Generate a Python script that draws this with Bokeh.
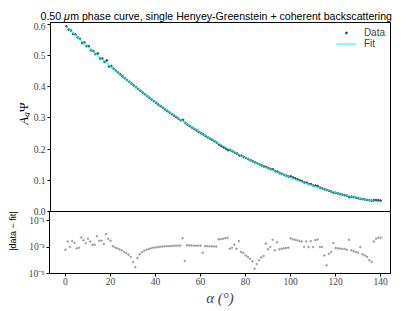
import math
from bokeh.plotting import figure
from bokeh.layouts import column, row
from bokeh.models import (Range1d, Legend, LegendItem, FixedTicker,
                          CustomJSTickFormatter, PrintfTickFormatter, ColumnDataSource)
from bokeh.core.properties import value
from bokeh.embed import file_html
from bokeh.resources import INLINE

# ---------------- data ----------------
alpha_deg = list(range(0, 141))

fit_values = [
    0.5930, 0.5861, 0.5792, 0.5724, 0.5657, 0.5589, 0.5522, 0.5456, 0.5390, 0.5324,
    0.5259, 0.5194, 0.5129, 0.5065, 0.5001, 0.4939, 0.4876, 0.4813, 0.4751, 0.4690,
    0.4629, 0.4568, 0.4508, 0.4448, 0.4388, 0.4329, 0.4271, 0.4213, 0.4155, 0.4097,
    0.4040, 0.3984, 0.3928, 0.3872, 0.3817, 0.3762, 0.3707, 0.3653, 0.3599, 0.3546,
    0.3493, 0.3441, 0.3389, 0.3337, 0.3286, 0.3235, 0.3185, 0.3135, 0.3085, 0.3036,
    0.2988, 0.2939, 0.2891, 0.2844, 0.2797, 0.2750, 0.2704, 0.2658, 0.2613, 0.2568,
    0.2523, 0.2479, 0.2435, 0.2392, 0.2349, 0.2307, 0.2265, 0.2223, 0.2182, 0.2141,
    0.2100, 0.2060, 0.2021, 0.1982, 0.1943, 0.1904, 0.1866, 0.1829, 0.1792, 0.1755,
    0.1719, 0.1683, 0.1647, 0.1612, 0.1578, 0.1544, 0.1510, 0.1476, 0.1443, 0.1411,
    0.1379, 0.1347, 0.1316, 0.1285, 0.1254, 0.1224, 0.1195, 0.1165, 0.1136, 0.1108,
    0.1080, 0.1052, 0.1025, 0.0998, 0.0972, 0.0946, 0.0921, 0.0896, 0.0871, 0.0847,
    0.0823, 0.0799, 0.0776, 0.0754, 0.0731, 0.0710, 0.0688, 0.0667, 0.0647, 0.0627,
    0.0607, 0.0587, 0.0569, 0.0550, 0.0532, 0.0514, 0.0497, 0.0480, 0.0464, 0.0448,
    0.0432, 0.0417, 0.0402, 0.0388, 0.0374, 0.0361, 0.0348, 0.0335, 0.0323, 0.0311,
    0.0299,
]

data_values = [
    0.5936, 0.5835, 0.5802, 0.5696, 0.5677, 0.5581, 0.5531, 0.5404, 0.5422, 0.5304,
    0.5301, 0.5168, 0.5144, 0.5050, 0.5067, 0.4909, 0.4906, 0.4796, 0.4844, 0.4648,
    0.4659, 0.4580, 0.4517, 0.4456, 0.4395, 0.4335, 0.4275, 0.4217, 0.4158, 0.4099,
    0.4041, 0.3984, 0.3926, 0.3869, 0.3813, 0.3757, 0.3701, 0.3646, 0.3591, 0.3537,
    0.3484, 0.3431, 0.3378, 0.3326, 0.3275, 0.3223, 0.3173, 0.3123, 0.3073, 0.3023,
    0.2975, 0.2926, 0.2936, 0.2843, 0.2784, 0.2737, 0.2691, 0.2645, 0.2600, 0.2555,
    0.2510, 0.2475, 0.2423, 0.2380, 0.2338, 0.2296, 0.2254, 0.2212, 0.2144, 0.2101,
    0.2058, 0.2015, 0.1971, 0.1975, 0.1934, 0.1889, 0.1859, 0.1801, 0.1788, 0.1751,
    0.1717, 0.1681, 0.1646, 0.1611, 0.1578, 0.1545, 0.1511, 0.1478, 0.1445, 0.1429,
    0.1386, 0.1357, 0.1351, 0.1291, 0.1277, 0.1231, 0.1202, 0.1173, 0.1144, 0.1117,
    0.1125, 0.1090, 0.1060, 0.1030, 0.1000, 0.0972, 0.0931, 0.0922, 0.0881, 0.0875,
    0.0833, 0.0832, 0.0813, 0.0764, 0.0741, 0.0712, 0.0688, 0.0664, 0.0643, 0.0607,
    0.0599, 0.0579, 0.0561, 0.0543, 0.0525, 0.0508, 0.0462, 0.0474, 0.0459, 0.0444,
    0.0428, 0.0407, 0.0399, 0.0386, 0.0372, 0.0360, 0.0347, 0.0361, 0.0365, 0.0361,
    0.0351,
]

residual_values = [
    6.3e-4, 2.6e-3, 1.0e-3, 2.8e-3, 2.0e-3, 7.9e-4, 8.9e-4, 5.2e-3, 3.2e-3, 2.0e-3,
    4.2e-3, 2.6e-3, 1.5e-3, 1.5e-3, 6.6e-3, 3.0e-3, 3.0e-3, 1.7e-3, 9.3e-3, 4.2e-3,
    3.0e-3, 1.17e-3, 9.3e-4, 7.9e-4, 6.6e-4, 5.6e-4, 4.2e-4, 3.5e-4, 2.6e-4, 1.8e-4,
    7.4e-5, 3.0e-5, 1.5e-4, 2.8e-4, 4.0e-4, 5.2e-4, 6.3e-4, 7.1e-4, 7.9e-4, 8.9e-4,
    9.3e-4, 1.0e-3, 1.05e-3, 1.07e-3, 1.12e-3, 1.15e-3, 1.17e-3, 1.2e-3, 1.23e-3, 1.26e-3,
    1.26e-3, 1.29e-3, 4.5e-3, 8.9e-5, 1.32e-3, 1.32e-3, 1.32e-3, 1.26e-3, 1.26e-3, 1.26e-3,
    1.26e-3, 3.7e-4, 1.17e-3, 1.17e-3, 1.12e-3, 1.12e-3, 1.1e-3, 1.07e-3, 3.8e-3, 4.0e-3,
    4.2e-3, 4.5e-3, 5.0e-3, 7.4e-4, 8.9e-4, 1.5e-3, 7.4e-4, 2.8e-3, 4.2e-4, 3.5e-4,
    2.3e-4, 1.8e-4, 1.3e-4, 8.3e-5, 2.3e-5, 5.2e-5, 1.0e-4, 1.6e-4, 2.1e-4, 1.8e-3,
    6.6e-4, 1.0e-3, 3.5e-3, 5.6e-4, 2.3e-3, 6.6e-4, 7.4e-4, 7.9e-4, 8.3e-4, 8.9e-4,
    4.5e-3, 3.8e-3, 3.5e-3, 3.2e-3, 2.8e-3, 2.6e-3, 1.0e-3, 2.6e-3, 1.0e-3, 2.8e-3,
    1.0e-3, 3.3e-3, 3.7e-3, 1.0e-3, 1.0e-3, 2.3e-4, 4.2e-5, 3.0e-4, 4.2e-4, 2.0e-3,
    8.3e-4, 7.9e-4, 7.6e-4, 7.2e-4, 7.1e-4, 6.3e-4, 3.5e-3, 5.6e-4, 4.7e-4, 4.2e-4,
    3.7e-4, 1.0e-3, 2.8e-4, 2.3e-4, 1.8e-4, 1.0e-4, 7.4e-5, 2.6e-3, 4.2e-3, 5.0e-3,
    5.2e-3,
]

main_y_ticks = [0.0, 0.1, 0.2, 0.3, 0.4, 0.5, 0.6]
resid_y_ticks = [1e-5, 1e-3, 1e-1]
x_ticks = [0, 20, 40, 60, 80, 100, 120, 140]

title_parts = ["0.50 ", "\u03bc",
               "m phase curve, single Henyey-Greenstein + coherent backscattering"]

# ---------------- styling / layout constants ----------------
SERIF = "Liberation Serif"
SANS = "Liberation Sans"
TICK_SIZE = "9.5px"
TITLE_SIZE = 10.6
X_LO, X_HI = -7.1, 144.4
Y_HI = 0.606
W = 400          # total width
TITLE_H = 22     # title strip height (frame top at page y = 22)
LAB_W = 30       # strip that holds the rotated main y label
TOP_H = 194      # upper panel: 189 px frame + 5 px bottom room
BOT_H = 98       # residual panel
BOT_LAB_W = 24   # strip that holds the rotated residual label
OVERLAP = 5


def strip(width, height):
    f = figure(width=width, height=height, x_range=Range1d(0, width),
               y_range=Range1d(0, height), x_axis_type=None, y_axis_type=None,
               output_backend="svg", toolbar_location=None, title=None,
               min_border=0, outline_line_color=None)
    f.xgrid.visible = False
    f.ygrid.visible = False
    f.border_fill_alpha = 0
    f.background_fill_alpha = 0
    return f


src = ColumnDataSource(dict(alpha=alpha_deg, data=data_values,
                            fit=fit_values, resid=residual_values))
x_range = Range1d(X_LO, X_HI)

# ---------------- title strip ----------------
ttl = strip(W, TITLE_H)
em = TITLE_SIZE / 1000.0
w0 = (556 * 3 + 278 * 2) * em      # "0.50 " advance in Liberation Sans
w1 = 576 * em                      # italic mu advance
for txt, tx, style in [(title_parts[0], 40.0, "normal"),
                       (title_parts[1], 40.0 + w0, "italic"),
                       (title_parts[2], 40.0 + w0 + w1, "normal")]:
    ttl.text(x=[tx], y=[TITLE_H - 15], text=[txt], text_align="left",
             text_baseline="alphabetic", text_font=value(SANS),
             text_font_style=style, text_font_size=f"{TITLE_SIZE}px",
             text_color="black")

# ---------------- y-label strip (A_g Psi, rotated) ----------------
lab = strip(LAB_W, TOP_H)
PAGE_BOTTOM_TOP = TITLE_H + TOP_H
for txt, lx, ly, style, size in [("A", 22.5, 123.0, "italic", "13px"),
                                 ("g", 25.5, 116.5, "italic", "9px"),
                                 ("\u03a8", 22.5, 109.0, "normal", "13px")]:
    lab.text(x=[lx], y=[PAGE_BOTTOM_TOP - ly], text=[txt], angle=math.pi / 2,
             text_align="center", text_baseline="middle", text_font=value(SERIF),
             text_font_style=style, text_font_size=size, text_color="black")

# ---------------- main panel ----------------
p1 = figure(width=W - LAB_W, height=TOP_H, x_range=x_range, y_range=Range1d(0, Y_HI),
            output_backend="svg", toolbar_location=None,
            min_border_left=49 - LAB_W, min_border_right=10, min_border_top=0,
            min_border_bottom=OVERLAP)
p1.xaxis.visible = False
p1.xgrid.visible = False
p1.ygrid.visible = False
p1.outline_line_color = "black"
p1.outline_line_alpha = 1.0
p1.outline_line_width = 1

yax = p1.yaxis[0]
yax.ticker = FixedTicker(ticks=main_y_ticks)
yax.formatter = PrintfTickFormatter(format="%.1f")
yax.major_label_text_font = SERIF
yax.major_label_text_font_size = TICK_SIZE
yax.major_tick_out = 3
yax.major_tick_in = 0
yax.minor_tick_line_color = None
yax.axis_line_color = "black"
yax.major_tick_line_color = "black"
yax.major_label_standoff = 2

r_data = p1.scatter("alpha", "data", source=src, size=1.8, color="#444444",
                    marker="circle")
r_fit = p1.line("alpha", "fit", source=src, line_color="#00FFFF",
                line_width=1.3, line_alpha=0.75)

legend = Legend(items=[LegendItem(label="Data", renderers=[r_data]),
                       LegendItem(label="Fit", renderers=[r_fit])],
                location="top_right")
legend.label_text_font = SANS
legend.label_text_font_size = "10px"
legend.border_line_color = None
legend.background_fill_alpha = 0
legend.glyph_width = 20
legend.glyph_height = 5
legend.label_height = 11
legend.spacing = 0
legend.padding = 4
legend.margin = 5
legend.label_standoff = 8
p1.add_layout(legend)

# ---------------- residual label strip ----------------
lab2 = strip(BOT_LAB_W, BOT_H)
lab2.text(x=[12.0], y=[BOT_H - (242 - (TITLE_H + TOP_H - OVERLAP))],
          text=["|data \u2212 fit|"], angle=math.pi / 2, text_align="center",
          text_baseline="middle", text_font=value(SANS), text_font_style="normal",
          text_font_size="9px", text_color="black")

# ---------------- residual panel ----------------
p2 = figure(width=W - BOT_LAB_W, height=BOT_H, x_range=x_range, y_axis_type="log",
            y_range=Range1d(1e-5, 0.48), output_backend="svg",
            toolbar_location=None, min_border_left=49 - BOT_LAB_W, min_border_right=10,
            min_border_top=0, min_border_bottom=36)
p2.border_fill_alpha = 0
p2.xgrid.visible = False
p2.ygrid.visible = False
p2.outline_line_color = "black"
p2.outline_line_alpha = 1.0
p2.outline_line_width = 1

p2.scatter("alpha", "resid", source=src, size=1.6, color="#9f9f9f",
           marker="circle")

xax = p2.xaxis[0]
xax.ticker = FixedTicker(ticks=x_ticks)
xax.major_label_text_font = SERIF
xax.major_label_text_font_size = TICK_SIZE
xax.major_tick_out = 3
xax.major_tick_in = 0
xax.minor_tick_line_color = None
xax.axis_line_color = "black"
xax.major_label_standoff = 1
xax.axis_label = "\u03b1 (\u00b0)"
xax.axis_label_text_font = SERIF
xax.axis_label_text_font_style = "italic"
xax.axis_label_text_font_size = "15px"
xax.axis_label_standoff = 2

rax = p2.yaxis[0]
rax.ticker = FixedTicker(ticks=resid_y_ticks)
rax.formatter = CustomJSTickFormatter(code="""
const e = Math.round(Math.log10(tick));
const sup = {"-": "\u207b", "0": "\u2070", "1": "\u00b9", "2": "\u00b2", "3": "\u00b3",
             "4": "\u2074", "5": "\u2075", "6": "\u2076", "7": "\u2077", "8": "\u2078", "9": "\u2079"};
return "10" + String(e).split("").map(c => sup[c]).join("");
""")
rax.major_label_text_font = SERIF
rax.major_label_text_font_size = TICK_SIZE
rax.major_tick_out = 3
rax.major_tick_in = 0
rax.minor_tick_line_color = None
rax.axis_line_color = "black"
rax.major_label_standoff = 2

bottom = row(lab2, p2)
bottom.styles = {"margin-top": f"-{OVERLAP}px"}

layout = column(ttl, row(lab, p1), bottom)
open("out.html", "w").write(file_html(layout, INLINE, "phase curve"))
